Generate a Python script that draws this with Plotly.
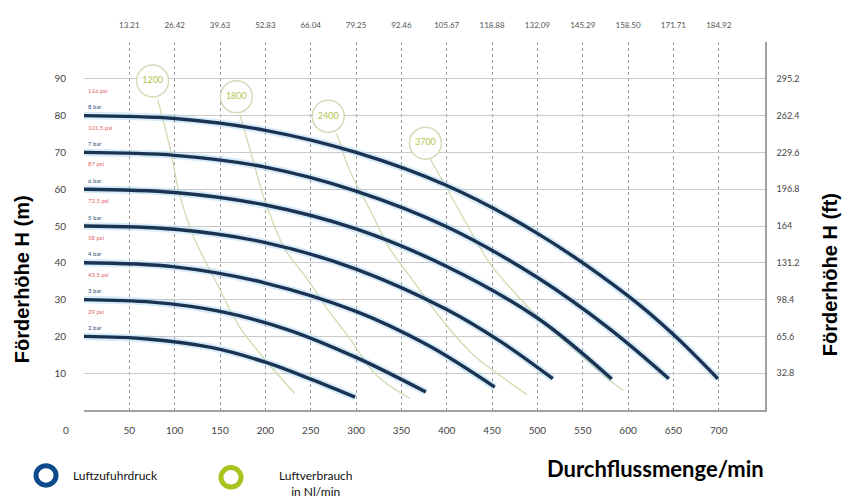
import plotly.graph_objects as go

# ---------------- data ----------------
flow_ticks = [50, 100, 150, 200, 250, 300, 350, 400, 450, 500, 550, 600, 650, 700]
flow_labels = [str(v) for v in flow_ticks]
gpm_labels = ["13.21", "26.42", "39.63", "52.83", "66.04", "79.25", "92.46", "105.67",
              "118.88", "132.09", "145.29", "158.50", "171.71", "184.92"]
head_ticks = [10, 20, 30, 40, 50, 60, 70, 80, 90, 100]
head_labels = ["10", "20", "30", "40", "50", "60", "70", "80", "90", ""]
ft_ticks = [32.8, 65.6, 98.4, 131.2, 164, 196.8, 229.6, 262.4, 295.2]
ft_labels = ["32.8", "65.6", "98.4", "131.2", "164", "196.8", "229.6", "262.4", "295.2"]

bar_names = ["2 bar", "3 bar", "4 bar", "5 bar", "6 bar", "7 bar", "8 bar"]
psi_names = ["29 psi", "43.5 psi", "58 psi", "72.5 psi", "87 psi", "101.5 psi", "116 psi"]
start_heads = [20, 30, 40, 50, 60, 70, 80]

flow_2bar = [0, 70, 140, 200, 250, 299]
head_2bar = [20, 19.3, 17.0, 13.0, 8.4, 3.5]
flow_3bar = [0, 75, 150, 225, 300, 377]
head_3bar = [30, 29.3, 26.8, 21.8, 14.3, 4.9]
flow_4bar = [0, 100, 200, 300, 380, 453]
head_4bar = [40, 38.9, 34.5, 26.8, 17.5, 6.2]
flow_5bar = [0, 100, 200, 300, 400, 460, 517]
head_5bar = [50, 49.1, 45.5, 38.3, 27.3, 18.5, 8.5]
flow_6bar = [0, 100, 200, 300, 400, 500, 582]
head_6bar = [60, 59.1, 55.7, 49.2, 39.0, 25.0, 8.4]
flow_7bar = [0, 100, 200, 300, 400, 500, 580, 645]
head_7bar = [70, 69.2, 66.0, 59.5, 49.8, 36.0, 22.0, 8.5]
flow_8bar = [0, 100, 200, 300, 400, 500, 600, 650, 699]
head_8bar = [80, 79.2, 76.0, 70.0, 61.0, 48.0, 31.0, 20.5, 8.5]

pressure_flows = [flow_2bar, flow_3bar, flow_4bar, flow_5bar, flow_6bar, flow_7bar, flow_8bar]
pressure_heads = [head_2bar, head_3bar, head_4bar, head_5bar, head_6bar, head_7bar, head_8bar]

air_labels = ["1200", "1800", "2400", "3700"]
bubble_flow = [75.7, 168.0, 269.3, 376.5]
bubble_head = [89.4, 85.1, 79.8, 72.5]

air_flow_1200 = [81.2, 94.5, 105.5, 122.1, 147.5, 171.7, 199.3, 232.4]
air_head_1200 = [84.4, 71.6, 58.4, 46.4, 33.9, 22.5, 13.8, 4.5]
air_flow_1800 = [171.7, 188.2, 199.3, 221.4, 245.7, 271.1, 293.2, 323.0, 359.4]
air_head_1800 = [80.4, 66.3, 57.0, 43.8, 35.8, 26.5, 19.4, 9.3, 3.2]
air_flow_2400 = [278.8, 293.2, 315.3, 337.4, 359.4, 392.5, 428.9, 466.4, 488.5]
air_head_2400 = [75.1, 65.0, 54.4, 43.8, 36.3, 25.2, 15.1, 8.0, 4.2]
air_flow_3700 = [381.4, 400.2, 423.4, 447.7, 475.3, 502.9, 530.5, 554.8, 580.2, 594.5]
air_head_3700 = [68.4, 60.2, 49.9, 39.8, 31.8, 24.7, 18.6, 13.3, 8.0, 5.3]

air_flows = [air_flow_1200, air_flow_1800, air_flow_2400, air_flow_3700]
air_heads = [air_head_1200, air_head_1800, air_head_2400, air_head_3700]

# ---------------- figure ----------------
OFF = 8                      # default page body margin
SW, SH = 853, 502            # screen size
W, H = SW - OFF, SH - OFF    # figure size
PL, PR, PT, PB = 84, 765, 33, 410   # plot area in screen pixels
L, T = PL - OFF, PT - OFF
R, B = SW - PR, SH - PB
pw, ph = PR - PL, PB - PT

def px(x):
    return (x - PL) / pw

def py(y):
    return (PB - y) / ph

X_MAX = 751
Y_MAX = 100

fig = go.Figure()

GREEN_LINE = "#d2dab0"
for fl, hd in zip(air_flows, air_heads):
    fig.add_trace(go.Scatter(x=fl, y=hd, mode="lines", line=dict(color=GREEN_LINE, width=1.3, shape="spline"),
                             hoverinfo="skip", showlegend=False))

fig.add_trace(go.Scatter(x=bubble_flow, y=bubble_head, mode="markers+text", text=air_labels,
                         textposition="middle center",
                         textfont=dict(family="Lato", size=9, color="#b0c650"),
                         marker=dict(size=32, color="rgba(255,255,255,0.85)",
                                     line=dict(color="#d4dbb8", width=1.5)),
                         hoverinfo="skip", showlegend=False))

for fl, hd in zip(pressure_flows, pressure_heads):
    fig.add_trace(go.Scatter(x=fl, y=hd, mode="lines",
                             line=dict(color="rgba(140,200,235,0.35)", width=7.5, shape="spline", smoothing=1.0),
                             hoverinfo="skip", showlegend=False))
    fig.add_trace(go.Scatter(x=fl, y=hd, mode="lines",
                             line=dict(color="#1b3352", width=3.4, shape="spline", smoothing=1.0),
                             hoverinfo="skip", showlegend=False))

# invisible trace to anchor secondary axes
fig.add_trace(go.Scatter(x=[None], y=[None], xaxis="x2", yaxis="y2", showlegend=False, hoverinfo="skip"))

annotations = []
for name, psi, h0 in zip(bar_names, psi_names, start_heads):
    annotations.append(dict(x=2, y=h0 + 2.4, xref="x", yref="y", text=name, showarrow=False,
                            xanchor="left", yanchor="middle",
                            font=dict(family="Lato", size=6, color="#2d4c7a")))
    annotations.append(dict(x=2, y=h0 + 6.9, xref="x", yref="y", text=psi, showarrow=False,
                            xanchor="left", yanchor="middle",
                            font=dict(family="Lato", size=6, color="#e06666")))

def pann(x, y, text, size, family="Lato", color="#111", angle=0, xanchor="center", align="center"):
    return dict(x=px(x), y=py(y), xref="paper", yref="paper", text=text, showarrow=False,
                xanchor=xanchor, yanchor="middle", textangle=angle, align=align,
                font=dict(family=family, size=size, color=color))

annotations += [
    pann(66, 431, "0", 10, color="#444"),
    pann(22, 276, "<b>Förderhöhe H (m)</b>", 20, family="Liberation Sans", color="#000", angle=-90),
    pann(830, 272, "<b>Förderhöhe H (ft)</b>", 20, family="Liberation Sans", color="#000", angle=-90),
    pann(655, 470, "<b>Durchflussmenge/min</b>", 22, color="#000"),
    pann(71, 477, "Luftzufuhrdruck", 12, xanchor="left"),
    pann(316, 485, "Luftverbrauch<br>in Nl/min", 12),
]

shapes = [
    dict(type="circle", xref="paper", yref="paper", x0=px(36), x1=px(56), y0=py(487), y1=py(467),
         line=dict(color="#0c4a8c", width=5)),
    dict(type="circle", xref="paper", yref="paper", x0=px(221), x1=px(241), y0=py(489), y1=py(469),
         line=dict(color="#a9c21d", width=5)),
]

fig.update_layout(
    width=W, height=H,
    margin=dict(l=L, r=R, t=T, b=B),
    paper_bgcolor="white", plot_bgcolor="white",
    showlegend=False,
    font=dict(family="Lato", color="#444"),
    xaxis=dict(range=[0, X_MAX], tickvals=flow_ticks, ticktext=flow_labels,
               tickfont=dict(size=10, color="#444"), ticks="", ticklabelstandoff=10,
               showgrid=True, gridcolor="#9a9a9a", griddash="dot", gridwidth=1,
               showline=True, linecolor="#a0a0a0", linewidth=1.5, zeroline=False),
    xaxis2=dict(range=[0, X_MAX], overlaying="x", side="top", tickvals=flow_ticks, ticktext=gpm_labels,
                tickfont=dict(size=8, color="#555"), ticks="", ticklabelstandoff=11,
                showgrid=False, showline=False, zeroline=False),
    yaxis=dict(range=[0, Y_MAX], tickvals=head_ticks, ticktext=head_labels,
               tickfont=dict(size=10, color="#444"), ticks="", ticklabelstandoff=17,
               showgrid=True, gridcolor="#c9c9c9", gridwidth=1,
               showline=False, zeroline=False),
    yaxis2=dict(range=[0, Y_MAX * 3.28], overlaying="y", side="right", tickvals=ft_ticks, ticktext=ft_labels,
                tickfont=dict(size=9, color="#444"), ticks="", ticklabelstandoff=8,
                showgrid=False, showline=True, linecolor="#a0a0a0", linewidth=1.5, zeroline=False),
    annotations=annotations,
    shapes=shapes,
)

fig.write_html("out.html")
